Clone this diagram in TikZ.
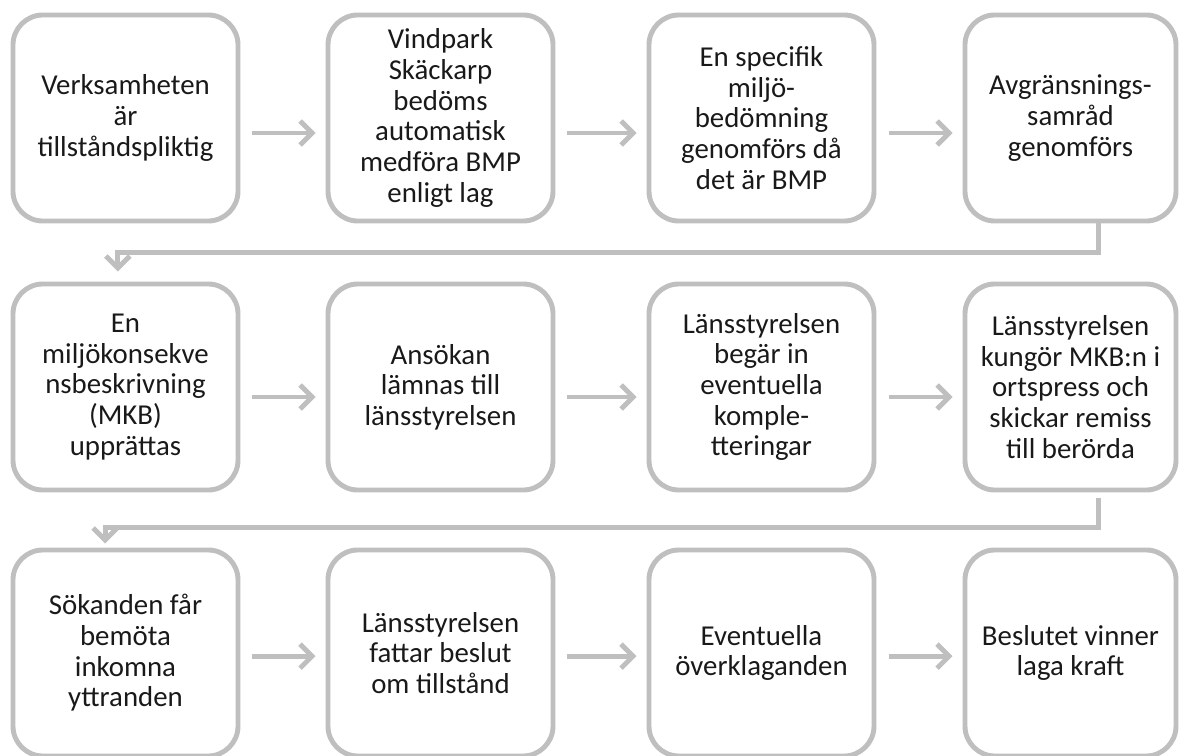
\documentclass[tikz,border=0pt]{standalone}
\usepackage{fontspec}
\setmainfont{Carlito}
\usetikzlibrary{arrows.meta}
\definecolor{flowgray}{HTML}{BFBFBF}
\tikzset{
  stage/.style={draw=flowgray, line width=3.5pt, rounded corners=0.75cm,
    minimum width=5.625cm, minimum height=5.15cm, inner sep=2pt, align=center,
    text=black!90, font=\fontsize{20.5}{21.8}\selectfont},
  laststage/.style={stage, minimum width=5.275cm},
  flow/.style={draw=flowgray, line width=3.5pt,
    -{Straight Barb[length=0.3cm,width=0.6cm]}},
}

\begin{document}
\begin{tikzpicture}[x=0.025cm, y=-0.025cm]
\useasboundingbox (0, 0) rectangle (1179, 756);
% first row
\node[stage] (verk) at (125.5, 118) {Verksamheten\\är\\tillståndspliktig};
\node[stage] (bmp) at (440.5, 118) {Vindpark\\Skäckarp\\bedöms\\automatisk\\medföra BMP\\enligt lag};
\node[stage] (bedom) at (761.5, 118) {En specifik\\miljö-\\bedömning\\genomförs då\\det är BMP};
\node[laststage] (avgr) at (1070.5, 118) {Avgränsnings-\\samråd\\genomförs};
% second row
\node[stage] (mkb) at (125.5, 387) {En\\miljökonsekve\\nsbeskrivning\\(MKB)\\upprättas};
\node[stage] (ansok) at (440.5, 387) {Ansökan\\lämnas till\\länsstyrelsen};
\node[stage] (kompl) at (761.5, 387) {Länsstyrelsen\\begär in\\eventuella\\komple-\\tteringar};
\node[laststage] (kungor) at (1070.5, 387) {Länsstyrelsen\\kungör MKB:n i\\ortspress och\\skickar remiss\\till berörda};
% third row
\node[stage] (bemot) at (125.5, 653) {Sökanden får\\bemöta\\inkomna\\yttranden};
\node[stage] (beslut) at (440.5, 653) {Länsstyrelsen\\fattar beslut\\om tillstånd};
\node[stage] (overkl) at (761.5, 653) {Eventuella\\överklaganden};
\node[laststage] (kraft) at (1070.5, 653) {Beslutet vinner\\laga kraft};

\foreach \a/\b/\s in {verk/bmp/-0.375, bmp/bedom/-0.375, bedom/avgr/-0.375,
    mkb/ansok/-0.25, ansok/kompl/-0.25, kompl/kungor/-0.25,
    bemot/beslut/-0.08, beslut/overkl/-0.08, overkl/kraft/-0.08}
  \draw[flow, shorten <=0.3cm, shorten >=0.25cm]
    ([yshift=\s cm]\a.east) -- ([yshift=\s cm]\b.west);

\draw[flow, shorten >=0.25cm] ([xshift=0.69cm]avgr.south) -- ++(0, 29)
  -| ([xshift=-0.19cm]mkb.north);
\draw[flow, shorten <=0.15cm, shorten >=0.1cm] ([xshift=0.69cm]kungor.south) -- ++(0, 35)
  -| ([xshift=-0.51cm]bemot.north);
\end{tikzpicture}
\end{document}
